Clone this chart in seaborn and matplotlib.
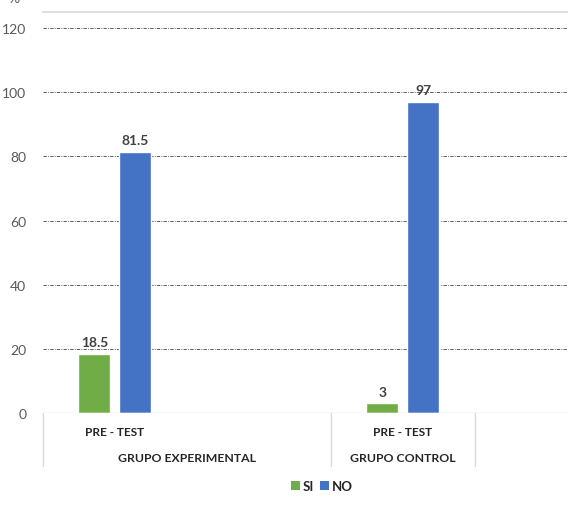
import pandas as pd
import seaborn as sns
import matplotlib.pyplot as plt
import matplotlib.transforms as mtransforms
from matplotlib.patches import Patch

# datos
slots = ["exp_pre", "exp_vacio", "ctl_pre", "ctl_vacio"]
slot_labels = ["PRE - TEST", "", "PRE - TEST", ""]
groups = ["GRUPO EXPERIMENTAL", "GRUPO CONTROL"]
group_spans = [(-0.5, 1.5), (1.5, 2.5)]
series = ["SI", "NO"]
si_values = [18.5, None, 3, None]
no_values = [81.5, None, 97, None]
yticks = [0, 20, 40, 60, 80, 100, 120]

colors = {"SI": "#70AD47", "NO": "#4472C4"}
text_gray = "#595959"
value_gray = "#404040"

df = pd.DataFrame({
    "slot": slots * 2,
    "serie": ["SI"] * 4 + ["NO"] * 4,
    "valor": si_values + no_values,
})

sns.set_theme(style="white")
plt.rcParams["font.family"] = ["Lato", "DejaVu Sans"]

fig = plt.figure(figsize=(5.7, 5.06), dpi=100)
ax = fig.add_axes([43 / 570, 1 - 414 / 506, (567 - 43) / 570, (414 - 13) / 506])

sns.barplot(
    data=df, x="slot", y="valor", hue="serie",
    order=slots, hue_order=series, palette=colors, saturation=1,
    width=0.57, gap=0.22, dodge=True, ax=ax, legend=False,
)

ax.set_xlim(-0.5, 3.14)
ax.set_ylim(0, 125)
ax.set_yticks(yticks)
ax.set_yticklabels([str(v) for v in yticks], color=text_gray, fontsize=10)
ax.tick_params(axis="y", length=0, pad=12)
ax.set_xticks([])
ax.set_xlabel("")
ax.set_ylabel("")

# grid punteado
for v in yticks[1:]:
    ax.axhline(v, color="#404040", linestyle=(0, (4, 1.5, 1, 1.5)), linewidth=0.6, zorder=0)
ax.axhline(0, color="#D9D9D9", linewidth=1, zorder=3)

for side in ["left", "right", "bottom"]:
    ax.spines[side].set_visible(False)
ax.spines["top"].set_color("#D9D9D9")
ax.spines["top"].set_linewidth(1.2)

# etiquetas de valores
for cont in ax.containers:
    labels = []
    for bar in cont:
        h = bar.get_height()
        if pd.isna(h) or h == 0:
            labels.append("")
        else:
            labels.append(f"{h:g}")
    ax.bar_label(cont, labels=labels, padding=4, fontsize=10,
                 fontweight="bold", color=value_gray)

# eje de categorias en dos niveles
trans = mtransforms.blended_transform_factory(ax.transData, ax.transAxes)
for i, lab in enumerate(slot_labels):
    if lab:
        ax.text(i, -0.047, lab, transform=trans, ha="center", va="center",
                fontsize=8.5, fontweight="bold", color="#262626")
for g, (a, b) in zip(groups, group_spans):
    ax.text((a + b) / 2, -0.11, g, transform=trans, ha="center", va="center",
            fontsize=8.8, fontweight="bold", color="#262626")
for x in [-0.5, 1.5, 2.5]:
    ax.plot([x, x], [0, -0.132], transform=trans, color="#D9D9D9",
            linewidth=1, clip_on=False)

handles = [Patch(facecolor=colors[s], edgecolor="none", label=s) for s in series]
fig.legend(handles=handles, loc="center", bbox_to_anchor=(322 / 570, 1 - 487 / 506),
           ncol=2, frameon=False, handlelength=0.7, handleheight=0.7,
           handletextpad=0.2, columnspacing=0.45, prop={"weight": "bold", "size": 9.5})

fig.text(8 / 570, 1 - 3 / 506, "%", fontsize=10, color=text_gray, va="baseline")

fig.savefig("out.png", dpi=100, facecolor="white")
